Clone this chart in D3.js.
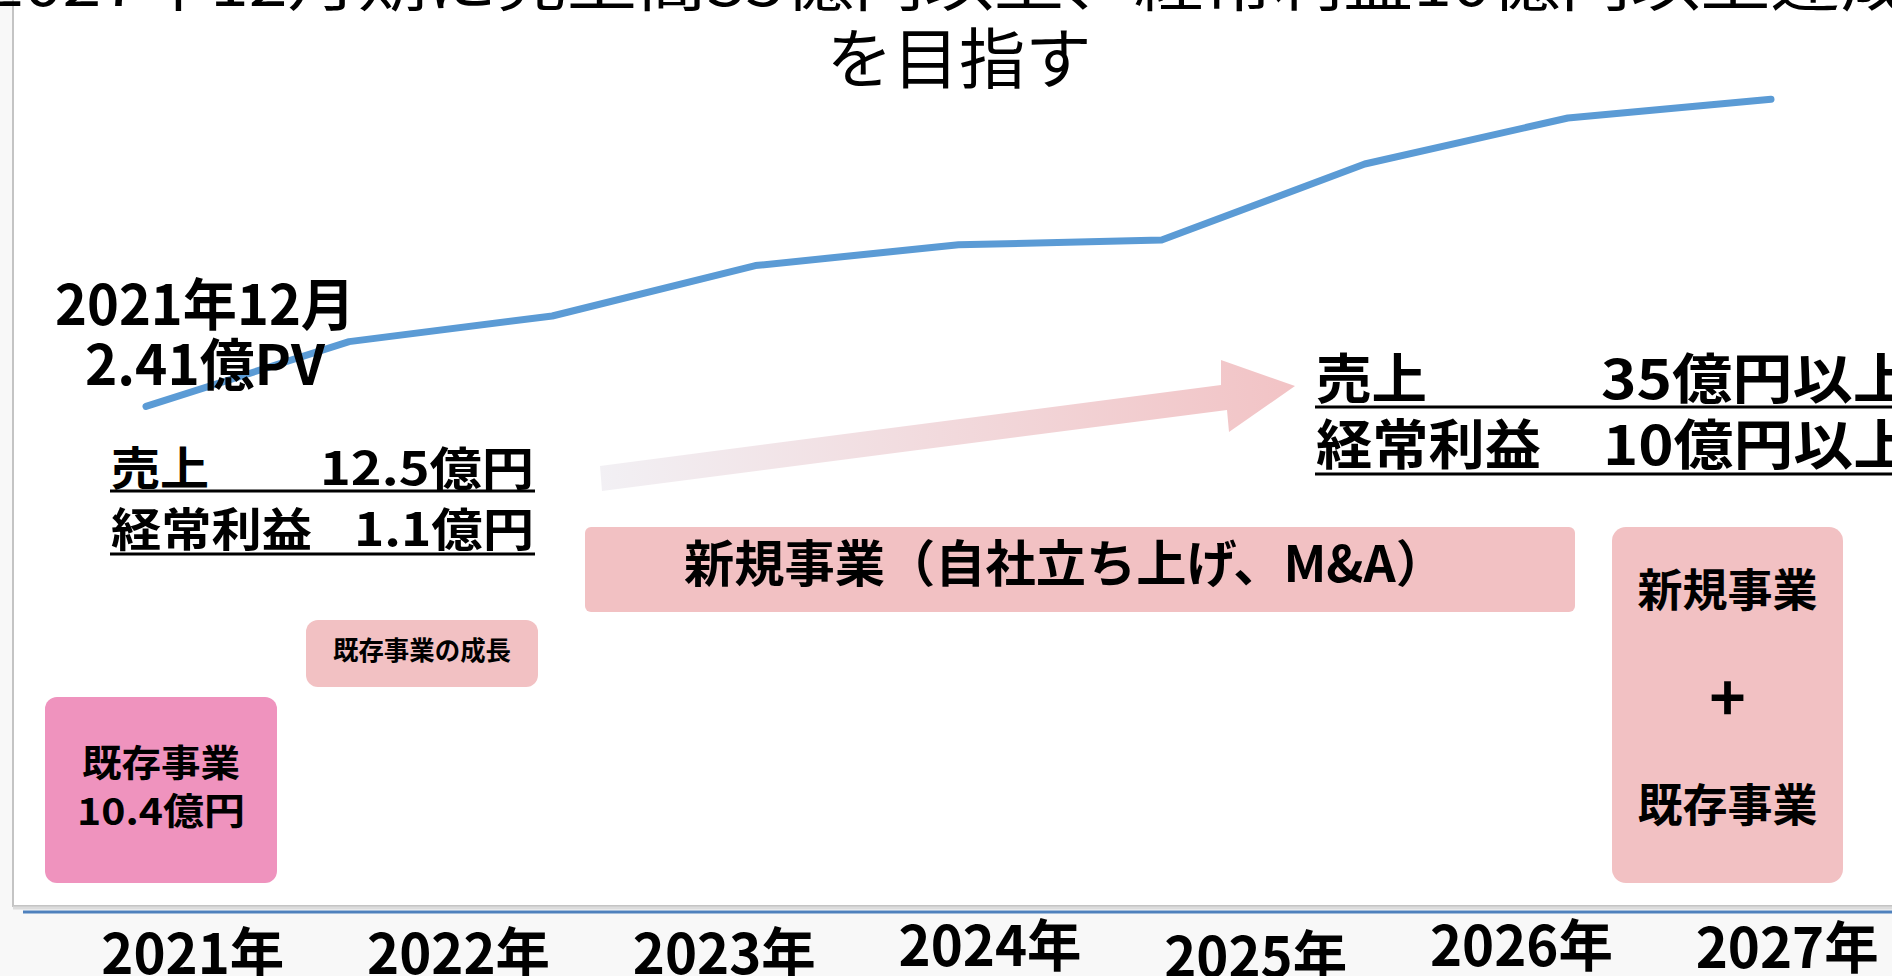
<!DOCTYPE html>
<html>
<head>
<meta charset="utf-8">
<script src="https://cdn.jsdelivr.net/npm/d3@7"></script>
<style>
  html, body { margin: 0; padding: 0; background: #f8f8f8; overflow: hidden; }
  svg { display: block; font-family: "Noto Sans CJK JP", "Noto Sans", sans-serif; }
</style>
</head>
<body>
<div id="chart"></div>
<script>
// chart data
var titleLines = ["2027年12月期に売上高35億円以上、経常利益10億円以上達成", "を目指す"];
var yearLabels = ["2021年", "2022年", "2023年", "2024年", "2025年", "2026年", "2027年"];
// PV trend (relative index)
var pvIndex = [23.4, 39.6, 46, 58.6, 63.8, 65, 84, 95.5, 100.2];
var pvNote = ["2021年12月", "2.41億PV"];
var kpiNames = ["売上", "経常利益"];
var kpi2021 = ["12.5億円", "1.1億円"];
var kpi2027 = ["35億円以上", "10億円以上"];
var existingBox = ["既存事業", "10.4億円"];
var growthLabel = "既存事業の成長";
var newBizLabel = "新規事業（自社立ち上げ、M&A）";
var targetBox = ["新規事業", "+", "既存事業"];

var width = 1892, height = 976;
// year labels sit a little uneven on the slide
var yearShift = [0, 0, 0, -8, 3, -8, -6];

var svg = d3.select("#chart")
  .append("svg")
  .attr("width", width)
  .attr("height", height);

var defs = svg.append("defs");
var grad = defs.append("linearGradient")
  .attr("id", "arrowGrad")
  .attr("gradientUnits", "userSpaceOnUse")
  .attr("x1", 600).attr("y1", 480)
  .attr("x2", 1295).attr("y2", 386);
grad.append("stop").attr("offset", "0%").attr("stop-color", "#f2f0f4");
grad.append("stop").attr("offset", "100%").attr("stop-color", "#f2c3c5");

// plot frame
svg.append("rect")
  .attr("x", 13).attr("y", -10)
  .attr("width", width + 20).attr("height", 916)
  .attr("fill", "#fff")
  .attr("stroke", "#c4c4c4")
  .attr("stroke-width", 2);
svg.append("line")
  .attr("x1", 13).attr("x2", width)
  .attr("y1", 908).attr("y2", 908)
  .attr("stroke", "#dcdcdc").attr("stroke-width", 3);

// title (first line runs off the top of the slide)
svg.append("text")
  .attr("x", -15).attr("y", 6)
  .attr("textLength", 1925)
  .attr("lengthAdjust", "spacingAndGlyphs")
  .style("font-size", "60px")
  .text(titleLines[0]);
svg.append("text")
  .attr("x", 959).attr("y", 83)
  .attr("text-anchor", "middle")
  .attr("textLength", 265)
  .attr("lengthAdjust", "spacingAndGlyphs")
  .style("font-size", "66px")
  .text(titleLines[1]);

// PV line
var x = d3.scaleLinear().domain([0, pvIndex.length - 1]).range([146, 1771]);
var y = d3.scaleLinear().domain([0, 100]).range([500, 100]);

svg.append("path")
  .datum(pvIndex)
  .attr("fill", "none")
  .attr("stroke", "#5b9bd5")
  .attr("stroke-width", 7)
  .attr("stroke-linejoin", "round")
  .attr("stroke-linecap", "round")
  .attr("d", d3.line()
    .x(function(d, i) { return x(i); })
    .y(function(d) { return y(d); }));

// PV note
svg.append("g").selectAll("text")
  .data(pvNote)
  .enter()
  .append("text")
    .attr("x", 205)
    .attr("y", function(d, i) { return [325, 385][i]; })
    .attr("text-anchor", "middle")
    .attr("textLength", function(d, i) { return [300, 240][i]; })
    .attr("lengthAdjust", "spacingAndGlyphs")
    .style("font-size", "56px")
    .style("font-weight", 700)
    .text(function(d) { return d; });

// arrow
svg.append("polygon")
  .attr("points", [[600, 466], [1221, 385], [1221, 360], [1295, 386], [1229, 432], [1227, 410], [602, 491]].join(" "))
  .attr("fill", "url(#arrowGrad)");

// KPI blocks
function kpiBlock(names, values, opt) {
  var g = svg.append("g");
  names.forEach(function(n, i) {
    g.append("text")
      .attr("x", opt.x0).attr("y", opt.base[i])
      .attr("textLength", opt.nameLen[i])
      .attr("lengthAdjust", "spacingAndGlyphs")
      .style("font-size", opt.size + "px")
      .style("font-weight", 700)
      .text(n);
    g.append("text")
      .attr("x", opt.vx[i]).attr("y", opt.base[i])
      .attr("text-anchor", opt.anchor)
      .attr("textLength", opt.valLen[i])
      .attr("lengthAdjust", "spacingAndGlyphs")
      .style("font-size", opt.size + "px")
      .style("font-weight", 700)
      .text(values[i]);
    g.append("line")
      .attr("x1", opt.x0 - 1).attr("x2", opt.x1)
      .attr("y1", opt.under[i]).attr("y2", opt.under[i])
      .attr("stroke", "#000").attr("stroke-width", 3);
  });
}
kpiBlock(kpiNames, kpi2021, {
  x0: 111, x1: 535, size: 46, anchor: "end",
  vx: [534, 534], base: [485, 546], under: [491, 554],
  nameLen: [98, 201], valLen: [214, 180]
});
kpiBlock(kpiNames, kpi2027, {
  x0: 1316, x1: width, size: 54, anchor: "start",
  vx: [1601, 1603], base: [399, 465], under: [407, 474],
  nameLen: [111, 225], valLen: [312, 310]
});

// boxes
function box(bx, by, bw, bh, fill, r, lines) {
  var g = svg.append("g");
  g.append("rect")
    .attr("x", bx).attr("y", by)
    .attr("width", bw).attr("height", bh)
    .attr("rx", r).attr("ry", r)
    .attr("fill", fill);
  lines.forEach(function(l) {
    var t = g.append("text")
      .attr("x", bx + bw / 2 + (l.dx || 0)).attr("y", l.y)
      .attr("text-anchor", "middle")
      .style("font-size", l.size + "px")
      .style("font-weight", 700)
      .text(l.text);
    if (l.len) t.attr("textLength", l.len).attr("lengthAdjust", "spacingAndGlyphs");
  });
}
box(45, 697, 232, 186, "#ef93be", 12, [
  {text: existingBox[0], y: 777, size: 37, len: 158},
  {text: existingBox[1], y: 825, size: 37, len: 168}
]);
box(306, 620, 232, 67, "#f2c1c3", 12, [
  {text: growthLabel, y: 660, size: 26, len: 178}
]);
box(585, 527, 990, 85, "#f2c1c3", 6, [
  {text: newBizLabel, y: 582, size: 50, len: 762, dx: -15}
]);
box(1612, 527, 231, 356, "#f2c1c3", 14, [
  {text: targetBox[0], y: 607, size: 45, len: 180},
  {text: targetBox[1], y: 721, size: 62},
  {text: targetBox[2], y: 822, size: 45, len: 180}
]);

// year axis
var xYear = d3.scaleBand().domain(yearLabels).range([60, 1920]);
svg.append("line")
  .attr("x1", 23).attr("x2", width)
  .attr("y1", 912).attr("y2", 912)
  .attr("stroke", "#4f81bd").attr("stroke-width", 3);

svg.append("g").selectAll("text")
  .data(yearLabels)
  .enter()
  .append("text")
    .attr("x", function(d) { return xYear(d) + xYear.bandwidth() / 2; })
    .attr("y", function(d, i) { return 974 + yearShift[i]; })
    .attr("text-anchor", "middle")
    .attr("textLength", 183)
    .attr("lengthAdjust", "spacingAndGlyphs")
    .style("font-size", "56px")
    .style("font-weight", 700)
    .text(function(d) { return d; });
</script>
</body>
</html>
